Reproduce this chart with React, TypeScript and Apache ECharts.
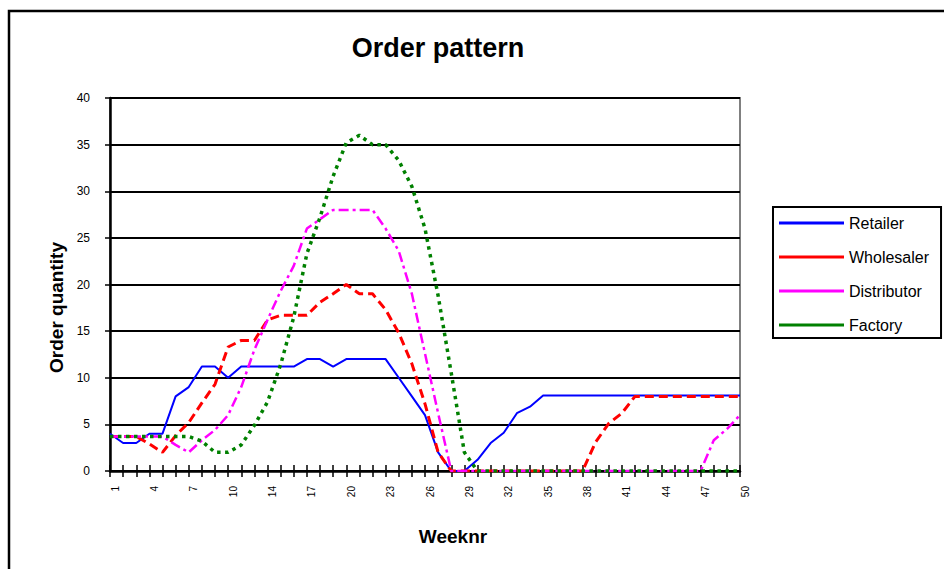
import React, { useEffect, useRef } from "react";
import * as echarts from "echarts";

const weeks: string[] = [
  "1", "2", "3", "4", "5", "6", "7", "8", "9", "10", "11", "12",
  "14", "15", "16", "17", "18", "19", "20", "21", "22", "23", "24", "25",
  "26", "27", "28", "29", "30", "31", "32", "33", "34", "35", "36", "37",
  "38", "39", "40", "41", "42", "43", "44", "45", "46", "47", "48", "49", "50",
];

const retailer: number[] = [
  4, 3, 3, 4, 4, 8, 9, 11.2, 11.2, 10, 11.2, 11.2, 11.2, 11.2, 11.2, 12, 12,
  11.2, 12, 12, 12, 12, 10, 8, 6, 2, 0, 0, 1.2, 3, 4.1, 6.2, 6.9, 8.1,
  8.1, 8.1, 8.1, 8.1, 8.1, 8.1, 8.1, 8.1, 8.1, 8.1, 8.1, 8.1, 8.1, 8.1, 8.1,
];

const wholesaler: number[] = [
  3.7, 3.7, 3.7, 2.9, 2.0, 3.8, 5.2, 7.3, 9.3, 13.3, 14, 14, 16.2, 16.7, 16.7,
  16.7, 18.1, 19, 20, 19, 19, 17.3, 14.8, 11.5, 7.2, 2, 0, 0, 0, 0, 0, 0, 0, 0,
  0, 0, 0, 3.1, 5.1, 6.2, 8, 8, 8, 8, 8, 8, 8, 8, 8,
];

const distributor: number[] = [
  3.7, 3.7, 3.7, 3.7, 3.7, 2.8, 2.0, 3.3, 4.4, 6.0, 9.0, 13, 16.2, 19.3, 22,
  26, 27, 28, 28, 28, 28, 26, 23.6, 19, 12.6, 6.2, 0, 0, 0, 0, 0, 0, 0, 0, 0,
  0, 0, 0, 0, 0, 0, 0, 0, 0, 0, 0, 3.3, 4.5, 6.0,
];

const factory: number[] = [
  3.7, 3.7, 3.7, 3.7, 3.7, 3.7, 3.7, 3.2, 2, 2, 2.8, 4.9, 7.4, 11.4, 16.5,
  23.3, 27.2, 31.6, 35.2, 36, 35, 35, 33.3, 30.5, 26, 18.8, 10.5, 2, 0, 0, 0,
  0, 0, 0, 0, 0, 0, 0, 0, 0, 0, 0, 0, 0, 0, 0, 0, 0, 0,
];

const seriesNames = ["Retailer", "Wholesaler", "Distributor", "Factory"];
const seriesColors = ["#0000FF", "#FF0000", "#FF00FF", "#008000"];

const FONT = "'Liberation Sans', Arial, Helvetica, sans-serif";

export default function App() {
  const ref = useRef<HTMLDivElement>(null);

  useEffect(() => {
    if (!ref.current) return;
    const chart = echarts.init(ref.current, undefined, { renderer: "svg" });

    const tickStyle = { color: "#000", width: 1.5 };

    const option: any = {
      animation: false,
      backgroundColor: "#fff",
      textStyle: { fontFamily: FONT, color: "#000" },
      title: {
        text: "Order pattern",
        left: 433,
        textAlign: "center",
        top: 29,
        textStyle: { fontSize: 27, fontWeight: "bold", color: "#000", fontFamily: FONT },
      },
      graphic: [
        {
          type: "rect",
          silent: true,
          shape: { x: 9, y: 11, width: 1000, height: 700 },
          style: { fill: "none", stroke: "#000", lineWidth: 2.5 },
        },
      ],
      legend: {
        orient: "vertical",
        left: 773,
        top: 207,
        icon: "rect",
        itemWidth: 65,
        itemHeight: 3,
        itemGap: 16,
        padding: [7, 12, 4, 6],
        borderColor: "#000",
        borderWidth: 2,
        backgroundColor: "#fff",
        selectedMode: false,
        textStyle: { fontSize: 16, lineHeight: 18, color: "#000", fontFamily: FONT },
        data: seriesNames.map((n, i) => ({
          name: n,
          itemStyle: { color: seriesColors[i], borderWidth: 0 },
        })),
      },
      grid: {
        left: 110,
        right: 204,
        top: 98,
        bottom: 98,
        show: true,
        borderColor: "#808080",
        borderWidth: 2,
        backgroundColor: "transparent",
      },
      xAxis: [
        {
          type: "category",
          data: weeks,
          boundaryGap: false,
          axisLine: { lineStyle: { color: "#000", width: 2.5 } },
          axisTick: { show: true, interval: 0, length: 6, lineStyle: tickStyle },
          axisLabel: {
            interval: 2,
            rotate: 90,
            fontSize: 10,
            margin: 15,
            verticalAlign: "top",
            color: "#000",
            fontFamily: FONT,
          },
          splitLine: { show: false },
          name: "Weeknr",
          nameLocation: "middle",
          nameGap: 56,
          nameTextStyle: {
            fontSize: 19,
            fontWeight: "bold",
            color: "#000",
            fontFamily: FONT,
            padding: [0, 0, 0, 56],
          },
        },
        {
          type: "category",
          data: weeks,
          boundaryGap: false,
          position: "bottom",
          axisLine: { show: false },
          axisTick: { show: true, inside: true, interval: 0, length: 6, lineStyle: tickStyle },
          axisLabel: { show: false },
          splitLine: { show: false },
        },
      ],
      yAxis: {
        type: "value",
        min: 0,
        max: 40,
        interval: 5,
        axisLine: { show: true, lineStyle: { color: "#000", width: 2.5 } },
        axisTick: { show: true, length: 5, lineStyle: tickStyle },
        axisLabel: { fontSize: 12, margin: 20, color: "#000", fontFamily: FONT },
        splitLine: { show: true, lineStyle: { color: "#000", width: 2 } },
        name: "Order quantity",
        nameLocation: "middle",
        nameGap: 43,
        nameRotate: 90,
        nameTextStyle: {
          fontSize: 19,
          fontWeight: "bold",
          color: "#000",
          fontFamily: FONT,
          padding: [0, 46, 0, 0],
        },
      },
      series: [
        {
          name: "Retailer",
          type: "line",
          data: retailer,
          symbol: "none",
          silent: true,
          itemStyle: { color: seriesColors[0] },
          lineStyle: { color: seriesColors[0], width: 2, type: "solid" },
        },
        {
          name: "Wholesaler",
          type: "line",
          data: wholesaler,
          symbol: "none",
          silent: true,
          itemStyle: { color: seriesColors[1] },
          lineStyle: { color: seriesColors[1], width: 3, type: [9, 5], cap: "butt" },
        },
        {
          name: "Distributor",
          type: "line",
          data: distributor,
          symbol: "none",
          silent: true,
          itemStyle: { color: seriesColors[2] },
          lineStyle: { color: seriesColors[2], width: 2.5, type: [10, 4, 3, 4], cap: "butt" },
        },
        {
          name: "Factory",
          type: "line",
          data: factory,
          symbol: "none",
          silent: true,
          itemStyle: { color: seriesColors[3] },
          lineStyle: { color: seriesColors[3], width: 3.5, type: [3.5, 4.5], cap: "butt" },
        },
      ],
    };

    chart.setOption(option);
    return () => chart.dispose();
  }, []);

  return (
    <div
      ref={ref}
      style={{ position: "absolute", left: 0, top: 0, width: 944, height: 569 }}
    />
  );
}
